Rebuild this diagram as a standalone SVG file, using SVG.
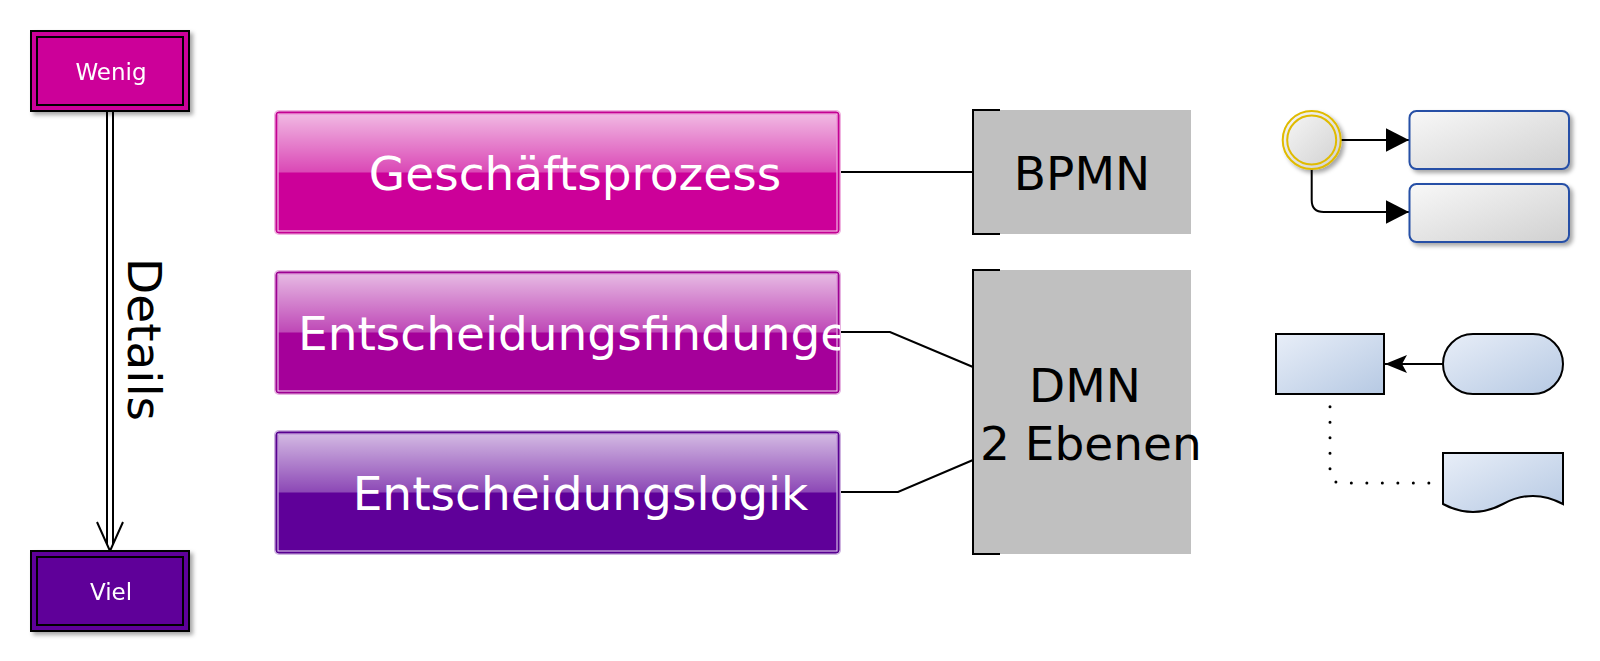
<svg xmlns="http://www.w3.org/2000/svg" width="1600" height="661" viewBox="0 0 1600 661">
<defs>
  <filter id="sh" x="-20%" y="-20%" width="150%" height="150%">
    <feDropShadow dx="3" dy="3" stdDeviation="2" flood-color="#000" flood-opacity="0.35"/>
  </filter>
  <linearGradient id="glass" x1="0" y1="0" x2="0" y2="1">
    <stop offset="0" stop-color="#fff" stop-opacity="0.72"/>
    <stop offset="1" stop-color="#fff" stop-opacity="0.28"/>
  </linearGradient>
  <linearGradient id="gray" x1="0" y1="0" x2="1" y2="1">
    <stop offset="0" stop-color="#f8f8f8"/>
    <stop offset="1" stop-color="#d0d0d0"/>
  </linearGradient>
  <linearGradient id="blue" x1="0" y1="0" x2="1" y2="1">
    <stop offset="0" stop-color="#e8eef8"/>
    <stop offset="1" stop-color="#b6c9e3"/>
  </linearGradient>
  <marker id="block" markerUnits="userSpaceOnUse" markerWidth="24" markerHeight="24" refX="23" refY="11.7" orient="auto">
    <path d="M0,0 L23,11.7 L0,23.4 z" fill="#000"/>
  </marker>
  <marker id="classic" markerUnits="userSpaceOnUse" markerWidth="24" markerHeight="20" refX="22" refY="9" orient="auto">
    <path d="M0,0 L22,9 L0,18 L5,9 z" fill="#000"/>
  </marker>
  <clipPath id="clip2"><rect x="276" y="271" width="564" height="123"/></clipPath>
</defs>
<style>
  text { font-family: "DejaVu Sans", "Liberation Sans", sans-serif; }
  .wt { fill: #ffffff; }
  .bt { fill: #000000; }
  .big { font-size: 47px; }
  .small { font-size: 23px; }
  .dbl { stroke: #000; stroke-width: 2; }
  .edge { fill: none; stroke: #000; stroke-width: 2; }
  .link { fill: none; stroke: #000; stroke-width: 2; }
  .white-line { fill: none; stroke: #fff; stroke-opacity: 0.85; stroke-width: 1; }
  .grayfill { fill: #c0c0c0; }
  .bracket { fill: none; stroke: #000; stroke-width: 2; }
</style>

<g id="connectors">
  <g id="arrow-details">
    <path d="M107,111 L107,544 L113,544 L113,111 Z" fill="#fff" stroke="none"/>
    <path class="link" d="M107,111 L107,544 M113,111 L113,544"/>
    <path class="link" d="M97,522 L110,551 L123,522" stroke-linejoin="miter"/>
  </g>
  <path class="edge" d="M840,172 L973,172"/>
  <path class="edge" d="M840,332 L890,332 L973,367"/>
  <path class="edge" d="M840,492 L898,492 L973,460"/>
  <path class="edge" d="M1341,140 L1409,140" marker-end="url(#block)"/>
  <path class="edge" d="M1311.7,169 L1311.7,200 Q1311.7,212 1323.7,212 L1409,212" marker-end="url(#block)"/>
  <path class="edge" d="M1443,364 L1385,364" marker-end="url(#classic)"/>
  <path d="M1330,394 L1330,471 Q1330,483 1342,483 L1443,483" fill="none" stroke="#000" stroke-width="3" stroke-linecap="round" stroke-dasharray="0 15.5" stroke-dashoffset="2.8"/>
</g>

<g id="label-details">
  <text class="bt" font-size="47" text-anchor="middle" transform="translate(127.5,339.5) rotate(90)">Details</text>
</g>

<g id="node-wenig" filter="url(#sh)">
  <rect x="31" y="31" width="158" height="80" fill="#CC0099" class="dbl"/>
  <rect x="37" y="37" width="146" height="68" fill="none" class="dbl"/>
  <text class="wt small" x="111" y="80" text-anchor="middle">Wenig</text>
</g>

<g id="node-viel" filter="url(#sh)">
  <rect x="31" y="551" width="158" height="80" fill="#5F0099" class="dbl"/>
  <rect x="37" y="557" width="146" height="68" fill="none" class="dbl"/>
  <text class="wt small" x="111" y="600" text-anchor="middle">Viel</text>
</g>

<g id="node-geschaeftsprozess">
  <rect x="274" y="110" width="567" height="125" rx="5" fill="#f0b3e0"/>
  <rect x="276" y="112" width="563" height="121" rx="3" fill="#CC0099" stroke="#bd008e" stroke-width="1"/>
  <rect x="278.5" y="114.5" width="558" height="58" fill="url(#glass)"/>
  <rect x="278" y="114" width="559" height="117" class="white-line"/>
  <text class="wt big" x="575" y="190" text-anchor="middle">Geschäftsprozess</text>
</g>

<g id="node-entscheidungsfindungen">
  <rect x="274" y="270" width="567" height="125" rx="5" fill="#e7b3e1"/>
  <rect x="276" y="272" width="563" height="121" rx="3" fill="#A5009A" stroke="#95008c" stroke-width="1"/>
  <rect x="278.5" y="274.5" width="558" height="58" fill="url(#glass)"/>
  <rect x="278" y="274" width="559" height="117" class="white-line"/>
  <text class="wt big" x="588.5" y="350" text-anchor="middle" clip-path="url(#clip2)">Entscheidungsfindungen</text>
</g>

<g id="node-entscheidungslogik">
  <rect x="274" y="430" width="567" height="125" rx="5" fill="#cfb3e0"/>
  <rect x="276" y="432" width="563" height="121" rx="3" fill="#5F0099" stroke="#52008a" stroke-width="1"/>
  <rect x="278.5" y="434.5" width="558" height="58" fill="url(#glass)"/>
  <rect x="278" y="434" width="559" height="117" class="white-line"/>
  <text class="wt big" x="580.5" y="510" text-anchor="middle">Entscheidungslogik</text>
</g>

<g id="node-bpmn">
  <rect x="973" y="110" width="218" height="124" class="grayfill"/>
  <path class="bracket" d="M1000,110 L973,110 L973,234 L1000,234"/>
  <text class="bt big" x="1082" y="190" text-anchor="middle">BPMN</text>
</g>

<g id="node-dmn">
  <rect x="973" y="270" width="218" height="284" class="grayfill"/>
  <path class="bracket" d="M1000,270 L973,270 L973,554 L1000,554"/>
  <text class="bt big" x="1029" y="401.5">DMN</text>
  <text class="bt big" x="980" y="460">2 Ebenen</text>
</g>

<g id="node-bpmn-start" filter="url(#sh)">
  <circle cx="1311.7" cy="140" r="29" fill="url(#gray)" stroke="#e0bb00" stroke-width="2"/>
  <circle cx="1311.7" cy="140" r="24.5" fill="none" stroke="#e0bb00" stroke-width="2"/>
</g>
<g id="node-bpmn-task1" filter="url(#sh)">
  <rect x="1409.5" y="111" width="159.5" height="58" rx="7" fill="url(#gray)" stroke="#2650a6" stroke-width="2"/>
</g>
<g id="node-bpmn-task2" filter="url(#sh)">
  <rect x="1409.5" y="184" width="159.5" height="58" rx="7" fill="url(#gray)" stroke="#2650a6" stroke-width="2"/>
</g>

<g id="node-dmn-decision">
  <rect x="1276" y="334" width="108" height="60" fill="url(#blue)" stroke="#000" stroke-width="2"/>
</g>
<g id="node-dmn-input">
  <rect x="1443" y="334" width="120" height="60" rx="30" fill="url(#blue)" stroke="#000" stroke-width="2"/>
</g>
<g id="node-dmn-knowledge">
  <path d="M1443,453 L1563,453 L1563,504 Q1533,487.8 1503,504 Q1473,520.2 1443,504 Z" fill="url(#blue)" stroke="#000" stroke-width="2"/>
</g>
</svg>
